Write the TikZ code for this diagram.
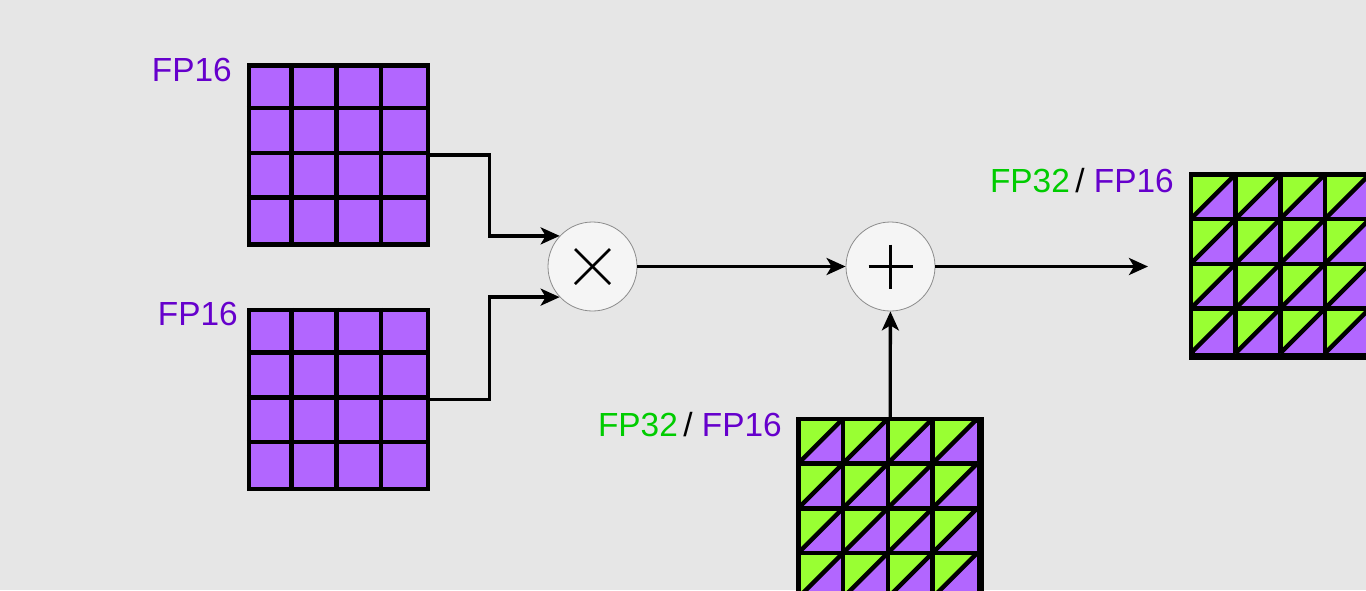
\documentclass[tikz,border=0pt]{standalone}
\usepackage{fontspec}
\setmainfont{Liberation Sans}
\usetikzlibrary{
    arrows.meta,
    positioning,
    calc,
}

\definecolor{fp16fill}{HTML}{B266FF}
\definecolor{fp32fill}{HTML}{99FF33}
\definecolor{fp16text}{HTML}{6600CC}
\definecolor{fp32text}{HTML}{00CC00}
\definecolor{canvas}{HTML}{E6E6E6}

\begin{document}
\begin{tikzpicture}[
    x=1pt, y=-1pt,
    >={Stealth[length=19pt, width=17pt, inset=5pt]},
    tile/.style={draw, line width=4.5pt, minimum size=179pt, inner sep=0pt, fill=fp16fill},
    op/.style={circle, draw=black!45, line width=0.8pt, fill=black!4, minimum size=89pt, inner sep=0pt},
    sym/.style={line width=2.5pt},
    flow/.style={->, line width=3.3pt},
    cell/.style={line width=4.5pt},
    tag/.style={anchor=base east, inner sep=0pt, font=\fontsize{33.4}{40}\selectfont},
    ]

\useasboundingbox (0,0) rectangle (1366,590);
\clip (0,0) rectangle (1366,590);
\fill[canvas] (0,0) rectangle (1366,590);

% weight tiles and accumulators
\node[tile] (wA) at (338.5,155) {};
\node[tile] (wB) at (338.5,399.5) {};
\node[tile] (acc) at (890,510.5) {};
\node[tile] (res) at (1282.5,266) {};

% half-and-half cells
\foreach \g in {acc, res} {
    \foreach \i in {0,...,3}
        \foreach \j in {0,...,3} {
            \fill[fp32fill] ($(\g.north west)+(\i*44.75,\j*44.75)$) -- ++(44.75,0) -- ++(-44.75,44.75) -- cycle;
            \draw[cell] ($(\g.north west)+(\i*44.75,\j*44.75+44.75)$) -- ++(44.75,-44.75);
        }
    \draw[cell] (\g.north west) rectangle (\g.south east);
}

% cell borders
\foreach \g in {wA, wB, acc, res}
    \foreach \i in {1,2,3} {
        \draw[cell] ($(\g.north west)+(\i*44.75,0)$) -- ++(0,179);
        \draw[cell] ($(\g.north west)+(0,\i*44.75)$) -- ++(179,0);
    }

% labels
\node[tag, text=fp16text] (lblA) at (232,81) {FP16};
\node[tag, text=fp16text] (lblB) at (238,325) {FP16};
\node[tag] (lblAcc) at (782,436) {\textcolor{fp32text}{FP32}\,/ \textcolor{fp16text}{FP16}};
\node[tag] (lblRes) at (1174,192) {\textcolor{fp32text}{FP32}\,/ \textcolor{fp16text}{FP16}};

% multiply and add
\node[op] (mul) at (592.5,266.5) {};
\node[op] (add) at (890.5,266.5) {};
\draw[sym] ($(mul)+(-17.5,-17.5)$) -- ($(mul)+(17.5,17.5)$);
\draw[sym] ($(mul)+(-17.5,17.5)$) -- ($(mul)+(17.5,-17.5)$);
\draw[sym] ($(add)+(-22,0)$) -- ($(add)+(22,0)$);
\draw[sym] ($(add)+(0,-22)$) -- ($(add)+(0,22)$);

\coordinate (out) at (1148,266.5);

\draw[flow] (wA.east) -- ++(59,0) |- (mul.137);
\draw[flow] (wB.east) -- ++(59,0) |- (mul.223);
\draw[flow] (mul) -- (add);
\draw[flow] (acc) -- (add);
\draw[flow] (add) -- (out);

\end{tikzpicture}
\end{document}
